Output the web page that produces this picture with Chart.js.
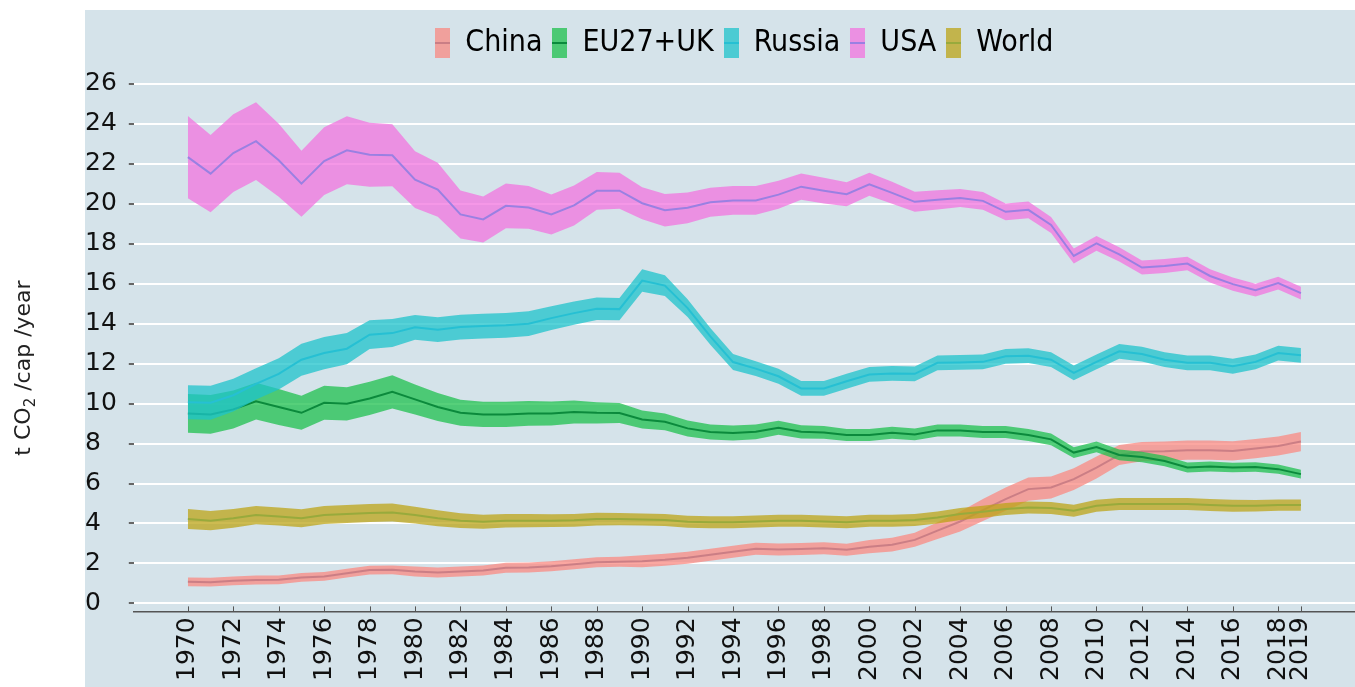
<!DOCTYPE html>
<html>
<head>
<meta charset="utf-8">
<script src="https://cdn.jsdelivr.net/npm/chart.js@4"></script>
<style>
  body { margin: 0; background: #fff; }
  canvas { display: block; }
</style>
</head>
<body>
<canvas id="co2Chart" width="1355" height="687"></canvas>
<script>
// years on the x axis
const years = [];
for (let y = 1970; y <= 2019; y++) years.push(y);

// tick labels shown on the x axis
const tickYears = [1970, 1972, 1974, 1976, 1978, 1980, 1982, 1984, 1986, 1988, 1990, 1992, 1994,
  1996, 1998, 2000, 2002, 2004, 2006, 2008, 2010, 2012, 2014, 2016, 2018, 2019];

// t CO2 per capita per year (central estimate) and half width of the band
const chinaMid = [1.08, 1.06, 1.13, 1.17, 1.18, 1.30, 1.35, 1.51, 1.67, 1.68,
  1.60, 1.55, 1.60, 1.65, 1.78, 1.80, 1.86, 1.96, 2.06, 2.09,
  2.11, 2.18, 2.28, 2.44, 2.59, 2.73, 2.70, 2.72, 2.76, 2.68,
  2.84, 2.94, 3.18, 3.64, 4.10, 4.67, 5.22, 5.72, 5.80, 6.22,
  6.80, 7.43, 7.60, 7.62, 7.67, 7.67, 7.63, 7.75, 7.88, 8.10];
const chinaErr = [0.22, 0.22, 0.22, 0.22, 0.22, 0.22, 0.22, 0.22, 0.22, 0.22,
  0.25, 0.25, 0.25, 0.25, 0.25, 0.25, 0.25, 0.25, 0.25, 0.25,
  0.30, 0.30, 0.30, 0.30, 0.30, 0.30, 0.30, 0.30, 0.30, 0.30,
  0.33, 0.34, 0.35, 0.42, 0.50, 0.55, 0.58, 0.58, 0.55, 0.55,
  0.55, 0.50, 0.48, 0.48, 0.48, 0.48, 0.48, 0.48, 0.48, 0.48];

const euMid = [9.51, 9.46, 9.71, 10.12, 9.83, 9.54, 10.04, 9.99, 10.26, 10.59,
  10.21, 9.83, 9.54, 9.46, 9.46, 9.51, 9.51, 9.58, 9.54, 9.53,
  9.21, 9.09, 8.76, 8.58, 8.53, 8.59, 8.79, 8.59, 8.56, 8.43,
  8.43, 8.54, 8.46, 8.66, 8.65, 8.58, 8.58, 8.43, 8.21, 7.55,
  7.83, 7.43, 7.33, 7.13, 6.80, 6.85, 6.80, 6.83, 6.72, 6.47];
const euErr = [0.97, 0.97, 0.95, 0.92, 0.90, 0.85, 0.85, 0.83, 0.83, 0.83,
  0.75, 0.70, 0.65, 0.63, 0.63, 0.62, 0.60, 0.58, 0.53, 0.50,
  0.45, 0.42, 0.40, 0.38, 0.38, 0.37, 0.35, 0.33, 0.32, 0.30,
  0.30, 0.30, 0.30, 0.30, 0.30, 0.30, 0.30, 0.30, 0.30, 0.27,
  0.27, 0.27, 0.26, 0.26, 0.25, 0.25, 0.24, 0.24, 0.23, 0.22];

const russiaMid = [10.07, 10.04, 10.42, 10.99, 11.49, 12.20, 12.53, 12.75, 13.45, 13.53,
  13.82, 13.70, 13.83, 13.88, 13.92, 14.00, 14.28, 14.53, 14.75, 14.73,
  16.16, 15.91, 14.78, 13.37, 12.08, 11.75, 11.37, 10.76, 10.76, 11.12,
  11.46, 11.51, 11.49, 12.04, 12.06, 12.09, 12.37, 12.40, 12.20, 11.54,
  12.09, 12.62, 12.48, 12.20, 12.04, 12.04, 11.87, 12.09, 12.53, 12.42];
const russiaErr = [0.85, 0.85, 0.82, 0.78, 0.78, 0.80, 0.81, 0.78, 0.72, 0.70,
  0.62, 0.62, 0.62, 0.62, 0.62, 0.62, 0.60, 0.58, 0.56, 0.56,
  0.56, 0.52, 0.45, 0.42, 0.40, 0.37, 0.37, 0.37, 0.37, 0.37,
  0.37, 0.37, 0.37, 0.37, 0.37, 0.37, 0.37, 0.37, 0.37, 0.37,
  0.37, 0.37, 0.37, 0.37, 0.37, 0.37, 0.37, 0.37, 0.37, 0.37];

const usaMid = [22.34, 21.51, 22.54, 23.14, 22.18, 21.01, 22.14, 22.68, 22.46, 22.43,
  21.21, 20.71, 19.47, 19.22, 19.90, 19.82, 19.47, 19.92, 20.65, 20.66,
  20.03, 19.68, 19.80, 20.08, 20.17, 20.17, 20.46, 20.86, 20.66, 20.48,
  20.98, 20.55, 20.10, 20.20, 20.29, 20.15, 19.60, 19.70, 18.94, 17.39,
  18.02, 17.47, 16.81, 16.89, 17.01, 16.39, 15.98, 15.68, 16.03, 15.53];
const usaErr = [2.06, 1.93, 1.95, 1.95, 1.83, 1.65, 1.70, 1.70, 1.60, 1.55,
  1.42, 1.35, 1.20, 1.15, 1.12, 1.07, 1.00, 1.00, 0.95, 0.90,
  0.80, 0.81, 0.77, 0.73, 0.72, 0.72, 0.70, 0.66, 0.64, 0.60,
  0.58, 0.55, 0.50, 0.48, 0.45, 0.44, 0.42, 0.42, 0.40, 0.38,
  0.37, 0.36, 0.35, 0.35, 0.34, 0.33, 0.33, 0.32, 0.32, 0.32];

const worldMid = [4.22, 4.14, 4.26, 4.42, 4.35, 4.26, 4.42, 4.47, 4.52, 4.55,
  4.42, 4.26, 4.14, 4.09, 4.14, 4.14, 4.14, 4.16, 4.22, 4.22,
  4.20, 4.17, 4.09, 4.06, 4.06, 4.10, 4.14, 4.14, 4.10, 4.06,
  4.14, 4.14, 4.17, 4.30, 4.47, 4.59, 4.72, 4.80, 4.77, 4.64,
  4.89, 4.97, 4.97, 4.97, 4.97, 4.92, 4.89, 4.89, 4.92, 4.92];
const worldErr = [0.50, 0.48, 0.47, 0.46, 0.45, 0.45, 0.45, 0.45, 0.45, 0.45,
  0.42, 0.40, 0.37, 0.35, 0.34, 0.33, 0.32, 0.32, 0.32, 0.31,
  0.30, 0.30, 0.30, 0.30, 0.30, 0.30, 0.30, 0.30, 0.30, 0.30,
  0.30, 0.30, 0.30, 0.30, 0.30, 0.30, 0.30, 0.30, 0.30, 0.30,
  0.30, 0.30, 0.30, 0.30, 0.30, 0.30, 0.30, 0.29, 0.28, 0.28];

const series = [
  { name: 'China', mid: chinaMid, err: chinaErr, band: 'rgba(249,138,130,0.75)', swatch: '#f0a09c', line: 'rgba(190,115,125,0.75)' },
  { name: 'EU27+UK', mid: euMid, err: euErr, band: 'rgba(30,192,77,0.75)', swatch: '#4cc974', line: '#0b8a3c' },
  { name: 'Russia', mid: russiaMid, err: russiaErr, band: 'rgba(30,195,203,0.75)', swatch: '#4ccbd3', line: '#26c0d3' },
  { name: 'USA', mid: usaMid, err: usaErr, band: 'rgba(242,116,223,0.75)', swatch: '#eb90e2', line: '#9a80e2' },
  { name: 'World', mid: worldMid, err: worldErr, band: 'rgba(188,164,23,0.75)', swatch: '#c2b44c', line: '#98aa3c' }
];

const bgColor = '#d5e3ea';

// small patch with a line through it, like the legend of the original
function makeSwatch(s) {
  const c = document.createElement('canvas');
  c.width = 15; c.height = 30;
  const g = c.getContext('2d');
  g.fillStyle = s.swatch;
  g.fillRect(0, 0, 15, 30);
  g.strokeStyle = s.line;
  g.lineWidth = 2;
  g.beginPath(); g.moveTo(0, 15); g.lineTo(15, 15); g.stroke();
  return c;
}

const datasets = [];
series.forEach((s, i) => {
  const ord = 10 * (5 - i);
  datasets.push({
    label: s.name + ' low',
    data: years.map((y, k) => ({ x: y, y: s.mid[k] - s.err[k] })),
    borderWidth: 0, borderColor: 'transparent', pointRadius: 0, fill: false, order: ord + 2
  });
  datasets.push({
    label: s.name + ' high',
    data: years.map((y, k) => ({ x: y, y: s.mid[k] + s.err[k] })),
    borderWidth: 0, borderColor: 'transparent', pointRadius: 0,
    backgroundColor: s.band, fill: '-1', order: ord + 2
  });
  datasets.push({
    label: s.name,
    data: years.map((y, k) => ({ x: y, y: s.mid[k] })),
    borderColor: s.line, borderWidth: 2, pointRadius: 0, fill: false, order: ord + 1,
    swatch: makeSwatch(s)
  });
});

const bgPlugin = {
  id: 'panelBg',
  beforeDraw(chart) {
    const ctx = chart.ctx;
    ctx.save();
    ctx.fillStyle = bgColor;
    ctx.fillRect(85, 10, chart.width - 85, chart.height - 10);
    ctx.restore();
  }
};

// x tick marks point up into the panel, as in the original
const innerTicksPlugin = {
  id: 'innerTicks',
  afterDraw(chart) {
    const sx = chart.scales.x;
    const bottom = chart.chartArea.bottom;
    const ctx = chart.ctx;
    ctx.save();
    ctx.strokeStyle = '#555';
    ctx.lineWidth = 1;
    sx.ticks.forEach(t => {
      const px = Math.round(sx.getPixelForValue(t.value)) + 0.5;
      ctx.beginPath();
      ctx.moveTo(px, bottom - 5);
      ctx.lineTo(px, bottom);
      ctx.stroke();
    });
    ctx.restore();
  }
};

// y axis title with a real subscript, outside the panel
const yTitlePlugin = {
  id: 'yTitle',
  afterDraw(chart) {
    const ctx = chart.ctx;
    const big = '22px "DejaVu Sans"', small = '15px "DejaVu Sans"';
    const parts = [['t CO', big, 0], ['2', small, 5], [' /cap /year', big, 0]];
    ctx.save();
    let total = 0;
    parts.forEach(p => { ctx.font = p[1]; total += ctx.measureText(p[0]).width; });
    ctx.translate(30, 368);
    ctx.rotate(-Math.PI / 2);
    ctx.fillStyle = '#222';
    ctx.textBaseline = 'alphabetic';
    let x = -total / 2;
    parts.forEach(p => {
      ctx.font = p[1];
      ctx.fillText(p[0], x, p[2]);
      x += ctx.measureText(p[0]).width;
    });
    ctx.restore();
  }
};

new Chart(document.getElementById('co2Chart'), {
  type: 'line',
  data: { datasets: datasets },
  plugins: [bgPlugin, innerTicksPlugin, yTitlePlugin],
  options: {
    responsive: false,
    devicePixelRatio: 1,
    animation: false,
    layout: { padding: { top: 18, right: 0, bottom: 0, left: 85 } },
    plugins: {
      tooltip: { enabled: false },
      legend: {
        position: 'top',
        fullSize: false,
        labels: {
          usePointStyle: true,
          pointStyleWidth: 15,
          boxHeight: 30,
          padding: 10,
          color: '#000',
          font: { family: 'DejaVu Sans Condensed', size: 30 },
          generateLabels(chart) {
            return chart.data.datasets
              .map((d, idx) => ({ d, idx }))
              .filter(o => o.d.swatch)
              .map(o => ({
                text: o.d.label,
                pointStyle: o.d.swatch,
                fillStyle: 'transparent',
                strokeStyle: 'transparent',
                lineWidth: 0,
                fontColor: '#000',
                hidden: false,
                datasetIndex: o.idx
              }));
          }
        }
      }
    },
    scales: {
      x: {
        type: 'linear',
        min: 1967.62,
        max: 2021.38,
        afterBuildTicks(scale) {
          scale.ticks = tickYears.map(v => ({ value: v }));
        },
        ticks: {
          autoSkip: false,
          minRotation: 90,
          maxRotation: 90,
          padding: 6,
          color: '#111',
          font: { family: 'DejaVu Sans', size: 25 },
          callback: v => String(v)
        },
        grid: { drawOnChartArea: false, drawTicks: false },
        border: { display: true, color: '#555', width: 1.5 }
      },
      y: {
        min: -0.4,
        max: 26.8,
        ticks: {
          stepSize: 2,
          includeBounds: false,
          crossAlign: 'far',
          padding: 6,
          color: '#111',
          font: { family: 'DejaVu Sans', size: 25 },
          callback: v => String(v)
        },
        grid: { color: '#ffffff', lineWidth: 2, tickLength: 5, tickColor: '#666' },
        border: { display: false }
      }
    }
  }
});
</script>
</body>
</html>
